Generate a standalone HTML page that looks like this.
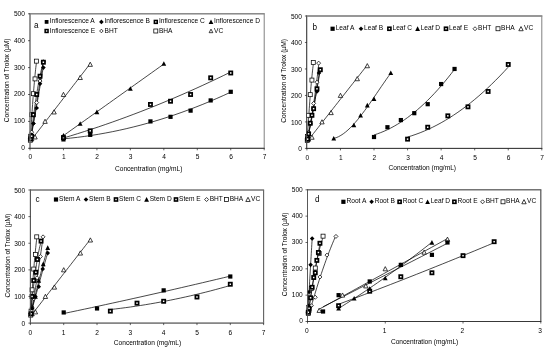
<!DOCTYPE html>
<html lang="en">
<head>
<meta charset="utf-8">
<title>Concentration of Trolox charts</title>
<style>
html,body{margin:0;padding:0;background:#fff;}
body{width:550px;height:352px;position:relative;overflow:hidden;font-family:'Liberation Sans', sans-serif;}
svg text{font-family:'Liberation Sans',sans-serif;fill:#000;}
.t{font-size:6.6px;}
.l{font-size:6.6px;}
.p{font-size:8.2px;}
</style>
</head>
<body>
<svg width="550" height="352" viewBox="0 0 550 352" style="position:absolute;left:0;top:0;transform:translateZ(0)">
<g id="panel-a">
<rect x="30.00" y="13.80" width="234.20" height="134.50" fill="#fff" stroke="#808080" stroke-width="1"/>
<path d="M63.46 138.82L70.43 138.14L77.40 137.34L84.37 136.44L91.34 135.42L98.31 134.30L105.28 133.06L112.25 131.72L119.22 130.27L126.19 128.71L133.16 127.03L140.13 125.25L147.10 123.36L154.07 121.36L161.04 119.26L168.01 117.04L174.98 114.71L181.95 112.27L188.92 109.73L195.89 107.07L202.86 104.30L209.83 101.43L216.80 98.45L223.77 95.35L230.74 92.15" fill="none" stroke="#000" stroke-width="0.72"/>
<path d="M30.67 139.52L31.20 136.58L31.73 133.62L32.26 130.66L32.79 127.69L33.32 124.71L33.85 121.72L34.38 118.73L34.91 115.73L35.44 112.72L35.97 109.71L36.50 106.68L37.03 103.65L37.56 100.62L38.09 97.57L38.62 94.52L39.14 91.46L39.67 88.39L40.20 85.32L40.73 82.23L41.26 79.15L41.79 76.05L42.32 72.94L42.85 69.83L43.38 66.71" fill="none" stroke="#000" stroke-width="0.72"/>
<path d="M63.46 138.00L70.43 135.90L77.40 133.74L84.37 131.53L91.34 129.26L98.31 126.94L105.28 124.56L112.25 122.12L119.22 119.62L126.19 117.07L133.16 114.46L140.13 111.80L147.10 109.08L154.07 106.30L161.04 103.46L168.01 100.57L174.98 97.62L181.95 94.62L188.92 91.56L195.89 88.44L202.86 85.26L209.83 82.03L216.80 78.74L223.77 75.40L230.74 71.99" fill="none" stroke="#000" stroke-width="0.72"/>
<path d="M63.46 135.63L67.64 132.65L71.82 129.66L76.00 126.68L80.19 123.70L84.37 120.72L88.55 117.74L92.73 114.75L96.91 111.77L101.10 108.79L105.28 105.81L109.46 102.83L113.64 99.84L117.82 96.86L122.01 93.88L126.19 90.90L130.37 87.91L134.55 84.93L138.74 81.95L142.92 78.97L147.10 75.99L151.28 73.00L155.46 70.02L159.65 67.04L163.83 64.06" fill="none" stroke="#000" stroke-width="0.72"/>
<path d="M30.67 140.77L31.20 135.97L31.73 131.31L32.26 126.77L32.79 122.37L33.32 118.11L33.85 113.98L34.38 109.98L34.91 106.12L35.44 102.39L35.97 98.79L36.50 95.33L37.03 92.00L37.56 88.81L38.09 85.75L38.62 82.82L39.14 80.03L39.67 77.37L40.20 74.85L40.73 72.46L41.26 70.20L41.79 68.08L42.32 66.09L42.85 64.23L43.38 62.51" fill="none" stroke="#000" stroke-width="0.72"/>
<path d="M30.67 138.89L31.20 135.68L31.73 132.48L32.26 129.27L32.79 126.06L33.32 122.84L33.85 119.63L34.38 116.41L34.91 113.19L35.44 109.97L35.97 106.74L36.50 103.51L37.03 100.28L37.56 97.05L38.09 93.81L38.62 90.58L39.14 87.34L39.67 84.09L40.20 80.85L40.73 77.60L41.26 74.35L41.79 71.10L42.32 67.84L42.85 64.59L43.38 61.33" fill="none" stroke="#000" stroke-width="0.72"/>
<path d="M30.33 140.00L30.59 135.66L30.84 131.41L31.09 127.26L31.34 123.21L31.59 119.26L31.84 115.41L32.09 111.65L32.34 108.00L32.59 104.45L32.84 100.99L33.09 97.64L33.35 94.38L33.60 91.22L33.85 88.17L34.10 85.21L34.35 82.35L34.60 79.59L34.85 76.93L35.10 74.37L35.35 71.90L35.60 69.54L35.85 67.28L36.11 65.11L36.36 63.05" fill="none" stroke="#000" stroke-width="0.72"/>
<path d="M31.67 139.47L34.11 136.31L36.55 133.15L38.99 129.99L41.43 126.83L43.87 123.67L46.31 120.51L48.75 117.35L51.19 114.19L53.63 111.02L56.07 107.86L58.51 104.70L60.95 101.54L63.39 98.38L65.83 95.22L68.27 92.06L70.71 88.90L73.15 85.74L75.59 82.58L78.02 79.42L80.46 76.26L82.90 73.10L85.34 69.94L87.78 66.78L90.22 63.62" fill="none" stroke="#000" stroke-width="0.72"/>
<path d="M30.67 136.89L32.67 138.89L30.67 140.89L28.67 138.89Z" fill="#fff" stroke="#000" stroke-width="0.75"/>
<path d="M31.67 130.16L33.67 132.16L31.67 134.16L29.67 132.16Z" fill="#fff" stroke="#000" stroke-width="0.75"/>
<path d="M33.35 121.55L35.35 123.55L33.35 125.55L31.35 123.55Z" fill="#fff" stroke="#000" stroke-width="0.75"/>
<path d="M36.69 100.57L38.69 102.57L36.69 104.57L34.69 102.57Z" fill="#fff" stroke="#000" stroke-width="0.75"/>
<path d="M40.04 79.05L42.04 81.05L40.04 83.05L38.04 81.05Z" fill="#fff" stroke="#000" stroke-width="0.75"/>
<path d="M43.38 59.68L45.38 61.68L43.38 63.68L41.38 61.68Z" fill="#fff" stroke="#000" stroke-width="0.75"/>
<rect x="28.33" y="138.23" width="4.00" height="4.00" fill="#fff" stroke="#000" stroke-width="0.75"/>
<rect x="28.67" y="134.20" width="4.00" height="4.00" fill="#fff" stroke="#000" stroke-width="0.75"/>
<rect x="29.67" y="112.68" width="4.00" height="4.00" fill="#fff" stroke="#000" stroke-width="0.75"/>
<rect x="31.35" y="91.69" width="4.00" height="4.00" fill="#fff" stroke="#000" stroke-width="0.75"/>
<rect x="33.02" y="76.90" width="4.00" height="4.00" fill="#fff" stroke="#000" stroke-width="0.75"/>
<rect x="34.36" y="59.14" width="4.00" height="4.00" fill="#fff" stroke="#000" stroke-width="0.75"/>
<path d="M31.67 136.69L33.87 140.87L29.47 140.87Z" fill="#fff" stroke="#000" stroke-width="0.75"/>
<path d="M35.02 134.80L37.22 138.98L32.82 138.98Z" fill="#fff" stroke="#000" stroke-width="0.75"/>
<path d="M45.06 119.20L47.26 123.38L42.86 123.38Z" fill="#fff" stroke="#000" stroke-width="0.75"/>
<path d="M54.09 109.79L56.29 113.97L51.89 113.97Z" fill="#fff" stroke="#000" stroke-width="0.75"/>
<path d="M63.46 92.30L65.66 96.48L61.26 96.48Z" fill="#fff" stroke="#000" stroke-width="0.75"/>
<path d="M80.19 75.35L82.39 79.53L77.99 79.53Z" fill="#fff" stroke="#000" stroke-width="0.75"/>
<path d="M90.22 62.17L92.42 66.35L88.02 66.35Z" fill="#fff" stroke="#000" stroke-width="0.75"/>
<rect x="61.36" y="137.32" width="4.20" height="4.20" fill="#000"/>
<rect x="88.12" y="132.75" width="4.20" height="4.20" fill="#000"/>
<rect x="148.35" y="119.30" width="4.20" height="4.20" fill="#000"/>
<rect x="168.42" y="114.73" width="4.20" height="4.20" fill="#000"/>
<rect x="188.49" y="108.54" width="4.20" height="4.20" fill="#000"/>
<rect x="208.57" y="98.32" width="4.20" height="4.20" fill="#000"/>
<rect x="228.64" y="89.71" width="4.20" height="4.20" fill="#000"/>
<path d="M30.67 136.59L32.97 138.89L30.67 141.19L28.37 138.89Z" fill="#000"/>
<path d="M31.67 132.55L33.97 134.85L31.67 137.15L29.37 134.85Z" fill="#000"/>
<path d="M33.35 121.25L35.65 123.55L33.35 125.85L31.05 123.55Z" fill="#000"/>
<path d="M36.69 105.65L38.99 107.95L36.69 110.25L34.39 107.95Z" fill="#000"/>
<path d="M40.04 81.44L42.34 83.74L40.04 86.04L37.74 83.74Z" fill="#000"/>
<path d="M43.38 65.30L45.68 67.60L43.38 69.90L41.08 67.60Z" fill="#000"/>
<rect x="61.86" y="135.94" width="3.20" height="3.20" fill="#fff" stroke="#000" stroke-width="1.70"/>
<rect x="88.62" y="129.22" width="3.20" height="3.20" fill="#fff" stroke="#000" stroke-width="1.70"/>
<rect x="148.85" y="102.85" width="3.20" height="3.20" fill="#fff" stroke="#000" stroke-width="1.70"/>
<rect x="168.92" y="99.63" width="3.20" height="3.20" fill="#fff" stroke="#000" stroke-width="1.70"/>
<rect x="188.99" y="92.90" width="3.20" height="3.20" fill="#fff" stroke="#000" stroke-width="1.70"/>
<rect x="209.07" y="76.22" width="3.20" height="3.20" fill="#fff" stroke="#000" stroke-width="1.70"/>
<rect x="229.14" y="71.38" width="3.20" height="3.20" fill="#fff" stroke="#000" stroke-width="1.70"/>
<path d="M63.46 132.99L65.86 137.55L61.06 137.55Z" fill="#000"/>
<path d="M80.19 121.15L82.59 125.71L77.79 125.71Z" fill="#000"/>
<path d="M96.91 109.59L99.31 114.15L94.51 114.15Z" fill="#000"/>
<path d="M130.37 86.18L132.77 90.74L127.97 90.74Z" fill="#000"/>
<path d="M163.83 61.17L166.23 65.73L161.43 65.73Z" fill="#000"/>
<rect x="29.07" y="137.29" width="3.20" height="3.20" fill="#fff" stroke="#000" stroke-width="1.70"/>
<rect x="30.07" y="134.60" width="3.20" height="3.20" fill="#fff" stroke="#000" stroke-width="1.70"/>
<rect x="31.75" y="113.08" width="3.20" height="3.20" fill="#fff" stroke="#000" stroke-width="1.70"/>
<rect x="35.09" y="92.90" width="3.20" height="3.20" fill="#fff" stroke="#000" stroke-width="1.70"/>
<rect x="38.44" y="74.61" width="3.20" height="3.20" fill="#fff" stroke="#000" stroke-width="1.70"/>
<rect x="41.78" y="60.62" width="3.20" height="3.20" fill="#fff" stroke="#000" stroke-width="1.70"/>
<line x1="30.00" y1="13.30" x2="30.00" y2="148.80" stroke="#7a7a7a" stroke-width="1.2"/>
<line x1="29.50" y1="13.80" x2="264.70" y2="13.80" stroke="#808080" stroke-width="1.0"/>
<line x1="29.50" y1="148.30" x2="264.70" y2="148.30" stroke="#2a2a2a" stroke-width="0.85"/>
<line x1="28.00" y1="148.30" x2="30.00" y2="148.30" stroke="#222" stroke-width="0.7"/>
<text x="24.90" y="150.20" text-anchor="end" class="t">0</text>
<line x1="28.00" y1="121.40" x2="30.00" y2="121.40" stroke="#222" stroke-width="0.7"/>
<text x="24.90" y="123.30" text-anchor="end" class="t">100</text>
<line x1="28.00" y1="94.50" x2="30.00" y2="94.50" stroke="#222" stroke-width="0.7"/>
<text x="24.90" y="96.40" text-anchor="end" class="t">200</text>
<line x1="28.00" y1="67.60" x2="30.00" y2="67.60" stroke="#222" stroke-width="0.7"/>
<text x="24.90" y="69.50" text-anchor="end" class="t">300</text>
<line x1="28.00" y1="40.70" x2="30.00" y2="40.70" stroke="#222" stroke-width="0.7"/>
<text x="24.90" y="42.60" text-anchor="end" class="t">400</text>
<line x1="28.00" y1="13.80" x2="30.00" y2="13.80" stroke="#222" stroke-width="0.7"/>
<text x="24.90" y="15.70" text-anchor="end" class="t">500</text>
<line x1="30.00" y1="148.30" x2="30.00" y2="150.30" stroke="#222" stroke-width="0.7"/>
<text x="30.30" y="159.20" text-anchor="middle" class="t">0</text>
<line x1="63.46" y1="148.30" x2="63.46" y2="150.30" stroke="#222" stroke-width="0.7"/>
<text x="63.76" y="159.20" text-anchor="middle" class="t">1</text>
<line x1="96.91" y1="148.30" x2="96.91" y2="150.30" stroke="#222" stroke-width="0.7"/>
<text x="97.21" y="159.20" text-anchor="middle" class="t">2</text>
<line x1="130.37" y1="148.30" x2="130.37" y2="150.30" stroke="#222" stroke-width="0.7"/>
<text x="130.67" y="159.20" text-anchor="middle" class="t">3</text>
<line x1="163.83" y1="148.30" x2="163.83" y2="150.30" stroke="#222" stroke-width="0.7"/>
<text x="164.13" y="159.20" text-anchor="middle" class="t">4</text>
<line x1="197.29" y1="148.30" x2="197.29" y2="150.30" stroke="#222" stroke-width="0.7"/>
<text x="197.59" y="159.20" text-anchor="middle" class="t">5</text>
<line x1="230.74" y1="148.30" x2="230.74" y2="150.30" stroke="#222" stroke-width="0.7"/>
<text x="231.04" y="159.20" text-anchor="middle" class="t">6</text>
<line x1="264.20" y1="148.30" x2="264.20" y2="150.30" stroke="#222" stroke-width="0.7"/>
<text x="264.50" y="159.20" text-anchor="middle" class="t">7</text>
<text x="148.70" y="170.80" text-anchor="middle" class="t">Concentration (mg/mL)</text>
<text transform="translate(9.40 80.45) rotate(-90)" text-anchor="middle" class="t">Concentration of Trolox (µM)</text>
</g>
<g id="panel-b">
<rect x="306.90" y="16.00" width="234.90" height="132.40" fill="#fff" stroke="#808080" stroke-width="1"/>
<path d="M374.01 134.95L377.37 133.85L380.73 132.60L384.08 131.22L387.44 129.69L390.79 128.03L394.15 126.21L397.50 124.26L400.86 122.17L404.22 119.93L407.57 117.55L410.93 115.03L414.28 112.36L417.64 109.56L420.99 106.61L424.35 103.52L427.71 100.28L431.06 96.91L434.42 93.39L437.77 89.73L441.13 85.93L444.48 81.98L447.84 77.89L451.20 73.67L454.55 69.29" fill="none" stroke="#000" stroke-width="0.72"/>
<path d="M307.57 138.39L308.05 136.37L308.52 134.29L309.00 132.16L309.47 129.98L309.95 127.74L310.42 125.45L310.90 123.10L311.37 120.70L311.85 118.24L312.33 115.73L312.80 113.17L313.28 110.55L313.75 107.88L314.23 105.15L314.70 102.37L315.18 99.53L315.65 96.64L316.13 93.69L316.60 90.69L317.08 87.64L317.55 84.53L318.03 81.37L318.51 78.15L318.98 74.88" fill="none" stroke="#000" stroke-width="0.72"/>
<path d="M407.57 137.02L411.77 135.74L415.96 134.31L420.16 132.74L424.35 131.03L428.54 129.18L432.74 127.18L436.93 125.05L441.13 122.77L445.32 120.35L449.52 117.79L453.71 115.09L457.91 112.25L462.10 109.26L466.30 106.13L470.49 102.87L474.69 99.46L478.88 95.90L483.07 92.21L487.27 88.38L491.46 84.40L495.66 80.28L499.85 76.02L504.05 71.62L508.24 67.08" fill="none" stroke="#000" stroke-width="0.72"/>
<path d="M333.75 138.45L336.12 137.73L338.50 136.70L340.88 135.39L343.25 133.82L345.63 132.00L348.01 129.96L350.38 127.69L352.76 125.24L355.14 122.60L357.52 119.80L359.89 116.86L362.27 113.78L364.65 110.60L367.02 107.32L369.40 103.97L371.78 100.55L374.15 97.10L376.53 93.61L378.91 90.12L381.28 86.64L383.66 83.18L386.04 79.76L388.42 76.40L390.79 73.12" fill="none" stroke="#000" stroke-width="0.72"/>
<path d="M307.57 138.59L308.10 135.89L308.63 133.18L309.17 130.46L309.70 127.72L310.23 124.96L310.76 122.19L311.29 119.41L311.82 116.62L312.35 113.81L312.88 110.98L313.42 108.14L313.95 105.29L314.48 102.42L315.01 99.54L315.54 96.65L316.07 93.74L316.60 90.82L317.13 87.88L317.67 84.93L318.20 81.96L318.73 78.99L319.26 75.99L319.79 72.99L320.32 69.96" fill="none" stroke="#000" stroke-width="0.72"/>
<path d="M307.57 137.97L308.03 135.89L308.49 133.73L308.96 131.49L309.42 129.17L309.88 126.76L310.34 124.26L310.80 121.68L311.26 119.02L311.72 116.28L312.19 113.45L312.65 110.53L313.11 107.53L313.57 104.45L314.03 101.29L314.49 98.04L314.95 94.71L315.42 91.29L315.88 87.79L316.34 84.21L316.80 80.54L317.26 76.79L317.72 72.95L318.18 69.03L318.64 65.03" fill="none" stroke="#000" stroke-width="0.72"/>
<path d="M307.24 140.23L307.49 135.95L307.74 131.77L307.99 127.69L308.24 123.70L308.49 119.81L308.75 116.02L309.00 112.33L309.25 108.73L309.50 105.23L309.75 101.83L310.00 98.53L310.26 95.32L310.51 92.22L310.76 89.21L311.01 86.29L311.26 83.48L311.51 80.76L311.77 78.14L312.02 75.62L312.27 73.20L312.52 70.87L312.77 68.64L313.02 66.51L313.28 64.48" fill="none" stroke="#000" stroke-width="0.72"/>
<path d="M308.58 139.71L311.02 136.59L313.47 133.48L315.92 130.37L318.37 127.26L320.81 124.15L323.26 121.04L325.71 117.93L328.15 114.82L330.60 111.71L333.05 108.60L335.49 105.48L337.94 102.37L340.39 99.26L342.83 96.15L345.28 93.04L347.73 89.93L350.17 86.82L352.62 83.71L355.07 80.60L357.52 77.49L359.96 74.37L362.41 71.26L364.86 68.15L367.30 65.04" fill="none" stroke="#000" stroke-width="0.72"/>
<path d="M307.57 137.13L309.57 139.13L307.57 141.13L305.57 139.13Z" fill="#fff" stroke="#000" stroke-width="0.75"/>
<path d="M308.58 130.51L310.58 132.51L308.58 134.51L306.58 132.51Z" fill="#fff" stroke="#000" stroke-width="0.75"/>
<path d="M310.26 122.04L312.26 124.04L310.26 126.04L308.26 124.04Z" fill="#fff" stroke="#000" stroke-width="0.75"/>
<path d="M313.61 101.38L315.61 103.38L313.61 105.38L311.61 103.38Z" fill="#fff" stroke="#000" stroke-width="0.75"/>
<path d="M316.97 80.20L318.97 82.20L316.97 84.20L314.97 82.20Z" fill="#fff" stroke="#000" stroke-width="0.75"/>
<path d="M318.64 61.13L320.64 63.13L318.64 65.13L316.64 63.13Z" fill="#fff" stroke="#000" stroke-width="0.75"/>
<rect x="305.24" y="138.46" width="4.00" height="4.00" fill="#fff" stroke="#000" stroke-width="0.75"/>
<rect x="305.57" y="134.48" width="4.00" height="4.00" fill="#fff" stroke="#000" stroke-width="0.75"/>
<rect x="306.58" y="113.30" width="4.00" height="4.00" fill="#fff" stroke="#000" stroke-width="0.75"/>
<rect x="308.26" y="92.65" width="4.00" height="4.00" fill="#fff" stroke="#000" stroke-width="0.75"/>
<rect x="309.93" y="78.08" width="4.00" height="4.00" fill="#fff" stroke="#000" stroke-width="0.75"/>
<rect x="311.28" y="60.60" width="4.00" height="4.00" fill="#fff" stroke="#000" stroke-width="0.75"/>
<path d="M308.58 136.93L310.78 141.11L306.38 141.11Z" fill="#fff" stroke="#000" stroke-width="0.75"/>
<path d="M311.93 135.08L314.13 139.26L309.73 139.26Z" fill="#fff" stroke="#000" stroke-width="0.75"/>
<path d="M322.00 119.72L324.20 123.90L319.80 123.90Z" fill="#fff" stroke="#000" stroke-width="0.75"/>
<path d="M331.06 110.45L333.26 114.63L328.86 114.63Z" fill="#fff" stroke="#000" stroke-width="0.75"/>
<path d="M340.46 93.24L342.66 97.42L338.26 97.42Z" fill="#fff" stroke="#000" stroke-width="0.75"/>
<path d="M357.24 76.56L359.44 80.74L355.04 80.74Z" fill="#fff" stroke="#000" stroke-width="0.75"/>
<path d="M367.30 63.58L369.50 67.76L365.10 67.76Z" fill="#fff" stroke="#000" stroke-width="0.75"/>
<rect x="371.91" y="134.91" width="4.20" height="4.20" fill="#000"/>
<rect x="385.34" y="125.12" width="4.20" height="4.20" fill="#000"/>
<rect x="398.76" y="117.97" width="4.20" height="4.20" fill="#000"/>
<rect x="412.18" y="111.08" width="4.20" height="4.20" fill="#000"/>
<rect x="425.61" y="102.08" width="4.20" height="4.20" fill="#000"/>
<rect x="439.03" y="81.95" width="4.20" height="4.20" fill="#000"/>
<rect x="452.45" y="66.86" width="4.20" height="4.20" fill="#000"/>
<path d="M307.57 136.83L309.87 139.13L307.57 141.43L305.27 139.13Z" fill="#000"/>
<path d="M308.58 132.86L310.88 135.16L308.58 137.46L306.28 135.16Z" fill="#000"/>
<path d="M310.26 120.94L312.56 123.24L310.26 125.54L307.96 123.24Z" fill="#000"/>
<path d="M313.61 106.38L315.91 108.68L313.61 110.98L311.31 108.68Z" fill="#000"/>
<path d="M316.97 89.17L319.27 91.47L316.97 93.77L314.67 91.47Z" fill="#000"/>
<path d="M318.98 70.63L321.28 72.93L318.98 75.23L316.68 72.93Z" fill="#000"/>
<rect x="405.97" y="137.53" width="3.20" height="3.20" fill="#fff" stroke="#000" stroke-width="1.70"/>
<rect x="426.11" y="125.62" width="3.20" height="3.20" fill="#fff" stroke="#000" stroke-width="1.70"/>
<rect x="446.24" y="114.23" width="3.20" height="3.20" fill="#fff" stroke="#000" stroke-width="1.70"/>
<rect x="466.37" y="105.23" width="3.20" height="3.20" fill="#fff" stroke="#000" stroke-width="1.70"/>
<rect x="486.51" y="89.87" width="3.20" height="3.20" fill="#fff" stroke="#000" stroke-width="1.70"/>
<rect x="506.64" y="62.86" width="3.20" height="3.20" fill="#fff" stroke="#000" stroke-width="1.70"/>
<path d="M333.75 135.94L336.15 140.50L331.35 140.50Z" fill="#000"/>
<path d="M353.88 122.70L356.28 127.26L351.48 127.26Z" fill="#000"/>
<path d="M360.59 112.90L362.99 117.46L358.19 117.46Z" fill="#000"/>
<path d="M367.30 102.84L369.70 107.40L364.90 107.40Z" fill="#000"/>
<path d="M374.01 96.48L376.41 101.04L371.61 101.04Z" fill="#000"/>
<path d="M390.79 70.53L393.19 75.09L388.39 75.09Z" fill="#000"/>
<rect x="305.97" y="137.53" width="3.20" height="3.20" fill="#fff" stroke="#000" stroke-width="1.70"/>
<rect x="306.98" y="132.24" width="3.20" height="3.20" fill="#fff" stroke="#000" stroke-width="1.70"/>
<rect x="308.66" y="121.64" width="3.20" height="3.20" fill="#fff" stroke="#000" stroke-width="1.70"/>
<rect x="310.33" y="113.70" width="3.20" height="3.20" fill="#fff" stroke="#000" stroke-width="1.70"/>
<rect x="312.01" y="107.08" width="3.20" height="3.20" fill="#fff" stroke="#000" stroke-width="1.70"/>
<rect x="315.37" y="87.22" width="3.20" height="3.20" fill="#fff" stroke="#000" stroke-width="1.70"/>
<rect x="318.72" y="68.15" width="3.20" height="3.20" fill="#fff" stroke="#000" stroke-width="1.70"/>
<line x1="306.50" y1="15.50" x2="306.50" y2="148.90" stroke="#4a4a4a" stroke-width="0.9"/>
<line x1="306.40" y1="16.00" x2="542.30" y2="16.00" stroke="#8a8a8a" stroke-width="1.4"/>
<line x1="306.40" y1="148.40" x2="542.30" y2="148.40" stroke="#2a2a2a" stroke-width="0.85"/>
<line x1="304.90" y1="148.40" x2="306.90" y2="148.40" stroke="#222" stroke-width="0.7"/>
<text x="301.90" y="151.20" text-anchor="end" class="t">0</text>
<line x1="304.90" y1="121.92" x2="306.90" y2="121.92" stroke="#222" stroke-width="0.7"/>
<text x="301.90" y="124.72" text-anchor="end" class="t">100</text>
<line x1="304.90" y1="95.44" x2="306.90" y2="95.44" stroke="#222" stroke-width="0.7"/>
<text x="301.90" y="98.24" text-anchor="end" class="t">200</text>
<line x1="304.90" y1="68.96" x2="306.90" y2="68.96" stroke="#222" stroke-width="0.7"/>
<text x="301.90" y="71.76" text-anchor="end" class="t">300</text>
<line x1="304.90" y1="42.48" x2="306.90" y2="42.48" stroke="#222" stroke-width="0.7"/>
<text x="301.90" y="45.28" text-anchor="end" class="t">400</text>
<line x1="304.90" y1="16.00" x2="306.90" y2="16.00" stroke="#222" stroke-width="0.7"/>
<text x="301.90" y="18.80" text-anchor="end" class="t">500</text>
<line x1="306.90" y1="148.40" x2="306.90" y2="150.40" stroke="#222" stroke-width="0.7"/>
<text x="307.30" y="160.30" text-anchor="middle" class="t">0</text>
<line x1="340.46" y1="148.40" x2="340.46" y2="150.40" stroke="#222" stroke-width="0.7"/>
<text x="340.86" y="160.30" text-anchor="middle" class="t">1</text>
<line x1="374.01" y1="148.40" x2="374.01" y2="150.40" stroke="#222" stroke-width="0.7"/>
<text x="374.41" y="160.30" text-anchor="middle" class="t">2</text>
<line x1="407.57" y1="148.40" x2="407.57" y2="150.40" stroke="#222" stroke-width="0.7"/>
<text x="407.97" y="160.30" text-anchor="middle" class="t">3</text>
<line x1="441.13" y1="148.40" x2="441.13" y2="150.40" stroke="#222" stroke-width="0.7"/>
<text x="441.53" y="160.30" text-anchor="middle" class="t">4</text>
<line x1="474.69" y1="148.40" x2="474.69" y2="150.40" stroke="#222" stroke-width="0.7"/>
<text x="475.09" y="160.30" text-anchor="middle" class="t">5</text>
<line x1="508.24" y1="148.40" x2="508.24" y2="150.40" stroke="#222" stroke-width="0.7"/>
<text x="508.64" y="160.30" text-anchor="middle" class="t">6</text>
<line x1="541.80" y1="148.40" x2="541.80" y2="150.40" stroke="#222" stroke-width="0.7"/>
<text x="542.20" y="160.30" text-anchor="middle" class="t">7</text>
<text x="422.30" y="170.10" text-anchor="middle" class="t">Concentration (mg/mL)</text>
<text transform="translate(286.30 81.00) rotate(-90)" text-anchor="middle" class="t">Concentration of Trolox (µM)</text>
</g>
<g id="panel-c">
<rect x="30.40" y="190.00" width="233.20" height="133.10" fill="#fff" stroke="#808080" stroke-width="1"/>
<path d="M63.71 313.52L70.65 312.07L77.60 310.60L84.54 309.13L91.48 307.65L98.42 306.15L105.36 304.65L112.30 303.14L119.24 301.62L126.18 300.10L133.12 298.56L140.06 297.02L147.00 295.46L153.94 293.90L160.88 292.33L167.82 290.75L174.76 289.16L181.70 287.56L188.64 285.95L195.58 284.33L202.52 282.71L209.46 281.07L216.40 279.43L223.35 277.78L230.29 276.11" fill="none" stroke="#000" stroke-width="0.72"/>
<path d="M31.07 313.09L31.76 310.50L32.45 307.91L33.15 305.33L33.84 302.76L34.54 300.19L35.23 297.63L35.92 295.08L36.62 292.54L37.31 290.00L38.01 287.47L38.70 284.94L39.39 282.43L40.09 279.92L40.78 277.41L41.48 274.92L42.17 272.43L42.87 269.94L43.56 267.47L44.25 265.00L44.95 262.53L45.64 260.08L46.34 257.63L47.03 255.19L47.72 252.75" fill="none" stroke="#000" stroke-width="0.72"/>
<path d="M110.35 309.53L115.35 308.95L120.35 308.33L125.35 307.68L130.34 307.00L135.34 306.27L140.34 305.51L145.33 304.71L150.33 303.87L155.33 303.00L160.33 302.09L165.32 301.14L170.32 300.16L175.32 299.14L180.31 298.08L185.31 296.99L190.31 295.86L195.31 294.69L200.30 293.48L205.30 292.24L210.30 290.96L215.29 289.64L220.29 288.29L225.29 286.90L230.29 285.47" fill="none" stroke="#000" stroke-width="0.72"/>
<path d="M31.07 313.01L31.76 310.04L32.45 307.09L33.15 304.16L33.84 301.25L34.54 298.36L35.23 295.50L35.92 292.65L36.62 289.83L37.31 287.03L38.01 284.25L38.70 281.50L39.39 278.76L40.09 276.05L40.78 273.36L41.48 270.69L42.17 268.04L42.87 265.42L43.56 262.82L44.25 260.23L44.95 257.68L45.64 255.14L46.34 252.62L47.03 250.13L47.72 247.65" fill="none" stroke="#000" stroke-width="0.72"/>
<path d="M31.07 309.82L31.48 305.60L31.90 301.50L32.32 297.52L32.73 293.66L33.15 289.92L33.56 286.30L33.98 282.80L34.40 279.43L34.81 276.18L35.23 273.05L35.65 270.04L36.06 267.15L36.48 264.39L36.90 261.74L37.31 259.22L37.73 256.82L38.15 254.54L38.56 252.38L38.98 250.35L39.39 248.43L39.81 246.64L40.23 244.97L40.64 243.42L41.06 241.99" fill="none" stroke="#000" stroke-width="0.72"/>
<path d="M31.07 313.28L31.57 310.58L32.07 307.83L32.57 305.05L33.07 302.22L33.56 299.35L34.06 296.44L34.56 293.49L35.06 290.50L35.56 287.47L36.06 284.40L36.56 281.28L37.06 278.13L37.56 274.93L38.06 271.70L38.56 268.42L39.06 265.10L39.56 261.74L40.06 258.34L40.56 254.90L41.06 251.42L41.56 247.90L42.06 244.34L42.56 240.73L43.06 237.09" fill="none" stroke="#000" stroke-width="0.72"/>
<path d="M30.73 314.89L30.98 310.59L31.23 306.38L31.48 302.28L31.73 298.27L31.98 294.36L32.23 290.55L32.48 286.84L32.73 283.22L32.98 279.70L33.23 276.29L33.48 272.97L33.73 269.74L33.98 266.62L34.23 263.59L34.48 260.67L34.73 257.84L34.98 255.10L35.23 252.47L35.48 249.94L35.73 247.50L35.98 245.16L36.23 242.92L36.48 240.78L36.73 238.73" fill="none" stroke="#000" stroke-width="0.72"/>
<path d="M32.07 314.36L34.49 311.23L36.92 308.11L39.35 304.98L41.78 301.85L44.21 298.72L46.64 295.60L49.07 292.47L51.50 289.34L53.93 286.21L56.36 283.09L58.79 279.96L61.22 276.83L63.64 273.70L66.07 270.58L68.50 267.45L70.93 264.32L73.36 261.19L75.79 258.07L78.22 254.94L80.65 251.81L83.08 248.68L85.51 245.56L87.94 242.43L90.37 239.30" fill="none" stroke="#000" stroke-width="0.72"/>
<path d="M31.07 311.78L33.07 313.78L31.07 315.78L29.07 313.78Z" fill="#fff" stroke="#000" stroke-width="0.75"/>
<path d="M32.07 305.13L34.07 307.13L32.07 309.13L30.07 307.13Z" fill="#fff" stroke="#000" stroke-width="0.75"/>
<path d="M33.73 296.61L35.73 298.61L33.73 300.61L31.73 298.61Z" fill="#fff" stroke="#000" stroke-width="0.75"/>
<path d="M37.06 275.85L39.06 277.85L37.06 279.85L35.06 277.85Z" fill="#fff" stroke="#000" stroke-width="0.75"/>
<path d="M40.39 254.55L42.39 256.55L40.39 258.55L38.39 256.55Z" fill="#fff" stroke="#000" stroke-width="0.75"/>
<path d="M43.06 234.85L45.06 236.85L43.06 238.85L41.06 236.85Z" fill="#fff" stroke="#000" stroke-width="0.75"/>
<rect x="28.73" y="313.11" width="4.00" height="4.00" fill="#fff" stroke="#000" stroke-width="0.75"/>
<rect x="29.07" y="309.12" width="4.00" height="4.00" fill="#fff" stroke="#000" stroke-width="0.75"/>
<rect x="30.07" y="287.83" width="4.00" height="4.00" fill="#fff" stroke="#000" stroke-width="0.75"/>
<rect x="31.73" y="267.06" width="4.00" height="4.00" fill="#fff" stroke="#000" stroke-width="0.75"/>
<rect x="33.40" y="252.42" width="4.00" height="4.00" fill="#fff" stroke="#000" stroke-width="0.75"/>
<rect x="34.73" y="234.85" width="4.00" height="4.00" fill="#fff" stroke="#000" stroke-width="0.75"/>
<path d="M32.07 311.58L34.27 315.76L29.87 315.76Z" fill="#fff" stroke="#000" stroke-width="0.75"/>
<path d="M35.40 309.72L37.60 313.90L33.20 313.90Z" fill="#fff" stroke="#000" stroke-width="0.75"/>
<path d="M45.39 294.28L47.59 298.46L43.19 298.46Z" fill="#fff" stroke="#000" stroke-width="0.75"/>
<path d="M54.39 284.96L56.59 289.14L52.19 289.14Z" fill="#fff" stroke="#000" stroke-width="0.75"/>
<path d="M63.71 267.66L65.91 271.84L61.51 271.84Z" fill="#fff" stroke="#000" stroke-width="0.75"/>
<path d="M80.37 250.89L82.57 255.07L78.17 255.07Z" fill="#fff" stroke="#000" stroke-width="0.75"/>
<path d="M90.37 237.85L92.57 242.03L88.17 242.03Z" fill="#fff" stroke="#000" stroke-width="0.75"/>
<rect x="61.61" y="310.35" width="4.20" height="4.20" fill="#000"/>
<rect x="94.93" y="306.36" width="4.20" height="4.20" fill="#000"/>
<rect x="161.56" y="288.26" width="4.20" height="4.20" fill="#000"/>
<rect x="228.19" y="274.41" width="4.20" height="4.20" fill="#000"/>
<path d="M31.07 311.48L33.37 313.78L31.07 316.08L28.77 313.78Z" fill="#000"/>
<path d="M32.07 306.16L34.37 308.46L32.07 310.76L29.77 308.46Z" fill="#000"/>
<path d="M35.40 294.18L37.70 296.48L35.40 298.78L33.10 296.48Z" fill="#000"/>
<path d="M38.73 284.33L41.03 286.63L38.73 288.93L36.43 286.63Z" fill="#000"/>
<path d="M42.73 266.76L45.03 269.06L42.73 271.36L40.43 269.06Z" fill="#000"/>
<path d="M47.72 250.79L50.02 253.09L47.72 255.39L45.42 253.09Z" fill="#000"/>
<rect x="108.75" y="309.52" width="3.20" height="3.20" fill="#fff" stroke="#000" stroke-width="1.70"/>
<rect x="135.41" y="301.53" width="3.20" height="3.20" fill="#fff" stroke="#000" stroke-width="1.70"/>
<rect x="162.06" y="299.67" width="3.20" height="3.20" fill="#fff" stroke="#000" stroke-width="1.70"/>
<rect x="195.37" y="295.41" width="3.20" height="3.20" fill="#fff" stroke="#000" stroke-width="1.70"/>
<rect x="228.69" y="282.63" width="3.20" height="3.20" fill="#fff" stroke="#000" stroke-width="1.70"/>
<path d="M31.07 311.38L33.47 315.94L28.67 315.94Z" fill="#000"/>
<path d="M32.07 304.73L34.47 309.29L29.67 309.29Z" fill="#000"/>
<path d="M35.40 294.08L37.80 298.64L33.00 298.64Z" fill="#000"/>
<path d="M38.73 278.11L41.13 282.67L36.33 282.67Z" fill="#000"/>
<path d="M43.23 261.60L45.63 266.16L40.83 266.16Z" fill="#000"/>
<path d="M47.72 245.37L50.12 249.93L45.32 249.93Z" fill="#000"/>
<rect x="29.47" y="312.18" width="3.20" height="3.20" fill="#fff" stroke="#000" stroke-width="1.70"/>
<rect x="30.47" y="294.88" width="3.20" height="3.20" fill="#fff" stroke="#000" stroke-width="1.70"/>
<rect x="32.13" y="278.91" width="3.20" height="3.20" fill="#fff" stroke="#000" stroke-width="1.70"/>
<rect x="34.30" y="270.66" width="3.20" height="3.20" fill="#fff" stroke="#000" stroke-width="1.70"/>
<rect x="35.80" y="257.88" width="3.20" height="3.20" fill="#fff" stroke="#000" stroke-width="1.70"/>
<rect x="39.46" y="239.51" width="3.20" height="3.20" fill="#fff" stroke="#000" stroke-width="1.70"/>
<line x1="30.40" y1="189.50" x2="30.40" y2="323.60" stroke="#4a4a4a" stroke-width="0.9"/>
<line x1="263.60" y1="190.00" x2="263.60" y2="323.10" stroke="#606060" stroke-width="0.9"/>
<line x1="29.90" y1="190.00" x2="264.10" y2="190.00" stroke="#707070" stroke-width="1.0"/>
<line x1="29.90" y1="323.10" x2="264.10" y2="323.10" stroke="#777" stroke-width="1.3"/>
<line x1="28.40" y1="323.10" x2="30.40" y2="323.10" stroke="#222" stroke-width="0.7"/>
<text x="25.20" y="325.70" text-anchor="end" class="t">0</text>
<line x1="28.40" y1="296.48" x2="30.40" y2="296.48" stroke="#222" stroke-width="0.7"/>
<text x="25.20" y="299.08" text-anchor="end" class="t">100</text>
<line x1="28.40" y1="269.86" x2="30.40" y2="269.86" stroke="#222" stroke-width="0.7"/>
<text x="25.20" y="272.46" text-anchor="end" class="t">200</text>
<line x1="28.40" y1="243.24" x2="30.40" y2="243.24" stroke="#222" stroke-width="0.7"/>
<text x="25.20" y="245.84" text-anchor="end" class="t">300</text>
<line x1="28.40" y1="216.62" x2="30.40" y2="216.62" stroke="#222" stroke-width="0.7"/>
<text x="25.20" y="219.22" text-anchor="end" class="t">400</text>
<line x1="28.40" y1="190.00" x2="30.40" y2="190.00" stroke="#222" stroke-width="0.7"/>
<text x="25.20" y="192.60" text-anchor="end" class="t">500</text>
<line x1="30.40" y1="323.10" x2="30.40" y2="325.10" stroke="#222" stroke-width="0.7"/>
<text x="30.40" y="334.80" text-anchor="middle" class="t">0</text>
<line x1="63.71" y1="323.10" x2="63.71" y2="325.10" stroke="#222" stroke-width="0.7"/>
<text x="63.71" y="334.80" text-anchor="middle" class="t">1</text>
<line x1="97.03" y1="323.10" x2="97.03" y2="325.10" stroke="#222" stroke-width="0.7"/>
<text x="97.03" y="334.80" text-anchor="middle" class="t">2</text>
<line x1="130.34" y1="323.10" x2="130.34" y2="325.10" stroke="#222" stroke-width="0.7"/>
<text x="130.34" y="334.80" text-anchor="middle" class="t">3</text>
<line x1="163.66" y1="323.10" x2="163.66" y2="325.10" stroke="#222" stroke-width="0.7"/>
<text x="163.66" y="334.80" text-anchor="middle" class="t">4</text>
<line x1="196.97" y1="323.10" x2="196.97" y2="325.10" stroke="#222" stroke-width="0.7"/>
<text x="196.97" y="334.80" text-anchor="middle" class="t">5</text>
<line x1="230.29" y1="323.10" x2="230.29" y2="325.10" stroke="#222" stroke-width="0.7"/>
<text x="230.29" y="334.80" text-anchor="middle" class="t">6</text>
<line x1="263.60" y1="323.10" x2="263.60" y2="325.10" stroke="#222" stroke-width="0.7"/>
<text x="263.60" y="334.80" text-anchor="middle" class="t">7</text>
<text x="147.50" y="345.00" text-anchor="middle" class="t">Concentration (mg/mL)</text>
<text transform="translate(10.30 255.55) rotate(-90)" text-anchor="middle" class="t">Concentration of Trolox (µM)</text>
</g>
<g id="panel-d">
<rect x="307.50" y="189.80" width="233.30" height="131.70" fill="#fff" stroke="#808080" stroke-width="1"/>
<path d="M323.05 306.86L328.24 304.21L333.42 301.56L338.61 298.91L343.79 296.26L348.98 293.61L354.16 290.96L359.34 288.31L364.53 285.66L369.71 283.01L374.90 280.36L380.08 277.70L385.27 275.05L390.45 272.40L395.64 269.75L400.82 267.10L406.00 264.45L411.19 261.80L416.37 259.15L421.56 256.50L426.74 253.85L431.93 251.20L437.11 248.54L442.30 245.89L447.48 243.24" fill="none" stroke="#000" stroke-width="0.72"/>
<path d="M307.89 312.42L308.07 309.27L308.25 306.13L308.42 302.99L308.60 299.86L308.78 296.74L308.96 293.62L309.14 290.51L309.31 287.40L309.49 284.30L309.67 281.21L309.85 278.12L310.03 275.03L310.21 271.96L310.38 268.88L310.56 265.82L310.74 262.76L310.92 259.70L311.10 256.66L311.27 253.61L311.45 250.58L311.63 247.55L311.81 244.52L311.99 241.50L312.17 238.49" fill="none" stroke="#000" stroke-width="0.72"/>
<path d="M338.61 304.25L345.09 301.82L351.57 299.39L358.05 296.94L364.53 294.48L371.01 292.01L377.49 289.53L383.97 287.03L390.45 284.52L396.93 282.00L403.41 279.47L409.89 276.93L416.37 274.37L422.85 271.80L429.33 269.22L435.81 266.62L442.30 264.02L448.78 261.40L455.26 258.77L461.74 256.12L468.22 253.47L474.70 250.80L481.18 248.12L487.66 245.43L494.14 242.72" fill="none" stroke="#000" stroke-width="0.72"/>
<path d="M338.61 308.46L342.50 306.01L346.38 303.54L350.27 301.04L354.16 298.51L358.05 295.95L361.94 293.37L365.82 290.76L369.71 288.12L373.60 285.46L377.49 282.77L381.38 280.05L385.27 277.30L389.15 274.52L393.04 271.72L396.93 268.89L400.82 266.04L404.71 263.15L408.60 260.24L412.49 257.30L416.37 254.33L420.26 251.34L424.15 248.32L428.04 245.27L431.93 242.19" fill="none" stroke="#000" stroke-width="0.72"/>
<path d="M308.28 312.43L308.76 309.36L309.25 306.31L309.74 303.27L310.22 300.25L310.71 297.25L311.19 294.27L311.68 291.31L312.17 288.36L312.65 285.43L313.14 282.52L313.62 279.63L314.11 276.76L314.60 273.90L315.08 271.07L315.57 268.25L316.05 265.45L316.54 262.66L317.03 259.90L317.51 257.15L318.00 254.42L318.48 251.71L318.97 249.02L319.46 246.34L319.94 243.68" fill="none" stroke="#000" stroke-width="0.72"/>
<path d="M309.06 314.19L310.18 310.17L311.30 306.22L312.42 302.33L313.54 298.51L314.66 294.75L315.78 291.05L316.90 287.42L318.02 283.85L319.15 280.34L320.27 276.90L321.39 273.52L322.51 270.20L323.63 266.95L324.75 263.76L325.87 260.63L326.99 257.57L328.11 254.57L329.24 251.64L330.36 248.77L331.48 245.96L332.60 243.22L333.72 240.54L334.84 237.92L335.96 235.37" fill="none" stroke="#000" stroke-width="0.72"/>
<path d="M308.28 313.47L308.89 308.90L309.51 304.44L310.12 300.11L310.74 295.90L311.36 291.81L311.97 287.85L312.59 284.01L313.20 280.29L313.82 276.70L314.43 273.22L315.05 269.87L315.67 266.64L316.28 263.54L316.90 260.56L317.51 257.70L318.13 254.96L318.74 252.34L319.36 249.85L319.98 247.48L320.59 245.23L321.21 243.11L321.82 241.11L322.44 239.23L323.05 237.47" fill="none" stroke="#000" stroke-width="0.72"/>
<path d="M319.17 309.20L324.51 306.26L329.86 303.32L335.20 300.37L340.55 297.43L345.90 294.49L351.24 291.55L356.59 288.60L361.94 285.66L367.28 282.72L372.63 279.78L377.98 276.83L383.32 273.89L388.67 270.95L394.02 268.01L399.36 265.06L404.71 262.12L410.05 259.18L415.40 256.23L420.75 253.29L426.09 250.35L431.44 247.41L436.79 244.46L442.13 241.52L447.48 238.58" fill="none" stroke="#000" stroke-width="0.72"/>
<path d="M309.06 310.28L311.06 312.28L309.06 314.28L307.06 312.28Z" fill="#fff" stroke="#000" stroke-width="0.75"/>
<path d="M311.39 303.70L313.39 305.70L311.39 307.70L309.39 305.70Z" fill="#fff" stroke="#000" stroke-width="0.75"/>
<path d="M315.28 295.27L317.28 297.27L315.28 299.27L313.28 297.27Z" fill="#fff" stroke="#000" stroke-width="0.75"/>
<path d="M319.94 274.99L321.94 276.99L319.94 278.99L317.94 276.99Z" fill="#fff" stroke="#000" stroke-width="0.75"/>
<path d="M326.94 253.12L328.94 255.12L326.94 257.12L324.94 255.12Z" fill="#fff" stroke="#000" stroke-width="0.75"/>
<path d="M335.96 234.42L337.96 236.42L335.96 238.42L333.96 236.42Z" fill="#fff" stroke="#000" stroke-width="0.75"/>
<rect x="306.28" y="311.60" width="4.00" height="4.00" fill="#fff" stroke="#000" stroke-width="0.75"/>
<rect x="307.06" y="307.65" width="4.00" height="4.00" fill="#fff" stroke="#000" stroke-width="0.75"/>
<rect x="309.39" y="286.57" width="4.00" height="4.00" fill="#fff" stroke="#000" stroke-width="0.75"/>
<rect x="313.28" y="266.03" width="4.00" height="4.00" fill="#fff" stroke="#000" stroke-width="0.75"/>
<rect x="317.17" y="251.54" width="4.00" height="4.00" fill="#fff" stroke="#000" stroke-width="0.75"/>
<rect x="321.05" y="234.16" width="4.00" height="4.00" fill="#fff" stroke="#000" stroke-width="0.75"/>
<path d="M319.17 308.24L321.37 312.42L316.97 312.42Z" fill="#fff" stroke="#000" stroke-width="0.75"/>
<path d="M342.50 292.96L344.69 297.14L340.30 297.14Z" fill="#fff" stroke="#000" stroke-width="0.75"/>
<path d="M365.82 283.74L368.02 287.92L363.62 287.92Z" fill="#fff" stroke="#000" stroke-width="0.75"/>
<path d="M385.27 266.62L387.47 270.80L383.07 270.80Z" fill="#fff" stroke="#000" stroke-width="0.75"/>
<path d="M424.15 250.03L426.35 254.21L421.95 254.21Z" fill="#fff" stroke="#000" stroke-width="0.75"/>
<path d="M447.48 237.12L449.68 241.30L445.28 241.30Z" fill="#fff" stroke="#000" stroke-width="0.75"/>
<rect x="320.95" y="309.39" width="4.20" height="4.20" fill="#000"/>
<rect x="336.51" y="293.06" width="4.20" height="4.20" fill="#000"/>
<rect x="367.61" y="279.36" width="4.20" height="4.20" fill="#000"/>
<rect x="398.72" y="262.77" width="4.20" height="4.20" fill="#000"/>
<rect x="429.83" y="252.76" width="4.20" height="4.20" fill="#000"/>
<rect x="445.38" y="240.38" width="4.20" height="4.20" fill="#000"/>
<path d="M307.89 309.98L310.19 312.28L307.89 314.58L305.59 312.28Z" fill="#000"/>
<path d="M308.28 303.40L310.58 305.70L308.28 308.00L305.98 305.70Z" fill="#000"/>
<path d="M309.06 289.70L311.36 292.00L309.06 294.30L306.76 292.00Z" fill="#000"/>
<path d="M310.61 262.57L312.91 264.87L310.61 267.17L308.31 264.87Z" fill="#000"/>
<path d="M312.17 236.23L314.47 238.53L312.17 240.83L309.87 238.53Z" fill="#000"/>
<rect x="337.01" y="304.10" width="3.20" height="3.20" fill="#fff" stroke="#000" stroke-width="1.70"/>
<rect x="368.11" y="289.61" width="3.20" height="3.20" fill="#fff" stroke="#000" stroke-width="1.70"/>
<rect x="399.22" y="275.12" width="3.20" height="3.20" fill="#fff" stroke="#000" stroke-width="1.70"/>
<rect x="430.33" y="271.17" width="3.20" height="3.20" fill="#fff" stroke="#000" stroke-width="1.70"/>
<rect x="461.43" y="254.05" width="3.20" height="3.20" fill="#fff" stroke="#000" stroke-width="1.70"/>
<rect x="492.54" y="240.09" width="3.20" height="3.20" fill="#fff" stroke="#000" stroke-width="1.70"/>
<path d="M338.61 305.93L341.01 310.49L336.21 310.49Z" fill="#000"/>
<path d="M354.16 295.92L356.56 300.48L351.76 300.48Z" fill="#000"/>
<path d="M369.71 286.18L372.11 290.74L367.31 290.74Z" fill="#000"/>
<path d="M385.27 275.64L387.67 280.20L382.87 280.20Z" fill="#000"/>
<path d="M400.82 262.47L403.22 267.03L398.42 267.03Z" fill="#000"/>
<path d="M431.93 240.08L434.33 244.64L429.53 244.64Z" fill="#000"/>
<rect x="306.68" y="310.68" width="3.20" height="3.20" fill="#fff" stroke="#000" stroke-width="1.70"/>
<rect x="307.46" y="306.73" width="3.20" height="3.20" fill="#fff" stroke="#000" stroke-width="1.70"/>
<rect x="309.01" y="296.19" width="3.20" height="3.20" fill="#fff" stroke="#000" stroke-width="1.70"/>
<rect x="310.57" y="285.66" width="3.20" height="3.20" fill="#fff" stroke="#000" stroke-width="1.70"/>
<rect x="312.12" y="275.91" width="3.20" height="3.20" fill="#fff" stroke="#000" stroke-width="1.70"/>
<rect x="313.68" y="271.17" width="3.20" height="3.20" fill="#fff" stroke="#000" stroke-width="1.70"/>
<rect x="315.23" y="258.79" width="3.20" height="3.20" fill="#fff" stroke="#000" stroke-width="1.70"/>
<rect x="316.79" y="250.89" width="3.20" height="3.20" fill="#fff" stroke="#000" stroke-width="1.70"/>
<rect x="318.34" y="241.67" width="3.20" height="3.20" fill="#fff" stroke="#000" stroke-width="1.70"/>
<line x1="307.50" y1="189.30" x2="307.50" y2="322.00" stroke="#555" stroke-width="0.9"/>
<line x1="540.80" y1="189.80" x2="540.80" y2="321.50" stroke="#5a5a5a" stroke-width="0.9"/>
<line x1="307.00" y1="189.80" x2="541.30" y2="189.80" stroke="#5a5a5a" stroke-width="0.9"/>
<line x1="307.00" y1="321.50" x2="541.30" y2="321.50" stroke="#2a2a2a" stroke-width="0.85"/>
<line x1="305.50" y1="321.50" x2="307.50" y2="321.50" stroke="#222" stroke-width="0.7"/>
<text x="302.80" y="323.30" text-anchor="end" class="t">0</text>
<line x1="305.50" y1="295.16" x2="307.50" y2="295.16" stroke="#222" stroke-width="0.7"/>
<text x="302.80" y="296.96" text-anchor="end" class="t">100</text>
<line x1="305.50" y1="268.82" x2="307.50" y2="268.82" stroke="#222" stroke-width="0.7"/>
<text x="302.80" y="270.62" text-anchor="end" class="t">200</text>
<line x1="305.50" y1="242.48" x2="307.50" y2="242.48" stroke="#222" stroke-width="0.7"/>
<text x="302.80" y="244.28" text-anchor="end" class="t">300</text>
<line x1="305.50" y1="216.14" x2="307.50" y2="216.14" stroke="#222" stroke-width="0.7"/>
<text x="302.80" y="217.94" text-anchor="end" class="t">400</text>
<line x1="305.50" y1="189.80" x2="307.50" y2="189.80" stroke="#222" stroke-width="0.7"/>
<text x="302.80" y="191.60" text-anchor="end" class="t">500</text>
<line x1="307.50" y1="321.50" x2="307.50" y2="323.50" stroke="#222" stroke-width="0.7"/>
<text x="306.80" y="332.50" text-anchor="middle" class="t">0</text>
<line x1="385.27" y1="321.50" x2="385.27" y2="323.50" stroke="#222" stroke-width="0.7"/>
<text x="384.57" y="332.50" text-anchor="middle" class="t">1</text>
<line x1="463.03" y1="321.50" x2="463.03" y2="323.50" stroke="#222" stroke-width="0.7"/>
<text x="462.33" y="332.50" text-anchor="middle" class="t">2</text>
<line x1="540.80" y1="321.50" x2="540.80" y2="323.50" stroke="#222" stroke-width="0.7"/>
<text x="540.10" y="332.50" text-anchor="middle" class="t">3</text>
<text x="424.60" y="344.20" text-anchor="middle" class="t">Concentration (mg/mL)</text>
<text transform="translate(286.90 254.45) rotate(-90)" text-anchor="middle" class="t">Concentration of Trolox (µM)</text>
</g>
<g id="legends">
<rect x="44.71" y="20.01" width="3.78" height="3.78" fill="#000"/>
<text x="49.70" y="23.45" class="l">Inflorescence A</text>
<path d="M101.40 19.60L103.70 21.90L101.40 24.20L99.10 21.90Z" fill="#000"/>
<text x="104.50" y="23.45" class="l">Inflorescence B</text>
<rect x="154.36" y="20.46" width="2.88" height="2.88" fill="#fff" stroke="#000" stroke-width="1.53"/>
<text x="158.90" y="23.45" class="l">Inflorescence C</text>
<path d="M211.00 19.50L213.40 24.06L208.60 24.06Z" fill="#000"/>
<text x="214.10" y="23.45" class="l">Inflorescence D</text>
<rect x="45.16" y="29.56" width="2.88" height="2.88" fill="#fff" stroke="#000" stroke-width="1.53"/>
<text x="49.70" y="32.85" class="l">Inflorescence E</text>
<path d="M101.40 29.20L103.20 31.00L101.40 32.80L99.60 31.00Z" fill="#fff" stroke="#000" stroke-width="0.75"/>
<text x="104.50" y="32.85" class="l">BHT</text>
<rect x="153.80" y="29.00" width="4.00" height="4.00" fill="#fff" stroke="#000" stroke-width="0.75"/>
<text x="158.90" y="32.85" class="l">BHA</text>
<path d="M211.00 29.13L212.87 32.68L209.13 32.68Z" fill="#fff" stroke="#000" stroke-width="0.75"/>
<text x="214.10" y="32.85" class="l">VC</text>
<text x="33.9" y="28.1" class="p">a</text>
<rect x="330.50" y="26.65" width="4.20" height="4.20" fill="#000"/>
<text x="335.70" y="30.00" class="l">Leaf A</text>
<path d="M361.00 26.45L363.30 28.75L361.00 31.05L358.70 28.75Z" fill="#000"/>
<text x="364.10" y="30.00" class="l">Leaf B</text>
<rect x="387.88" y="27.23" width="3.04" height="3.04" fill="#fff" stroke="#000" stroke-width="1.61"/>
<text x="392.50" y="30.00" class="l">Leaf C</text>
<path d="M417.60 26.35L420.00 30.91L415.20 30.91Z" fill="#000"/>
<text x="420.70" y="30.00" class="l">Leaf D</text>
<rect x="444.48" y="27.23" width="3.04" height="3.04" fill="#fff" stroke="#000" stroke-width="1.61"/>
<text x="449.10" y="30.00" class="l">Leaf E</text>
<path d="M475.00 26.75L477.00 28.75L475.00 30.75L473.00 28.75Z" fill="#fff" stroke="#000" stroke-width="0.75"/>
<text x="478.10" y="30.00" class="l">BHT</text>
<rect x="496.00" y="26.75" width="4.00" height="4.00" fill="#fff" stroke="#000" stroke-width="0.75"/>
<text x="501.10" y="30.00" class="l">BHA</text>
<path d="M521.00 26.55L523.20 30.73L518.80 30.73Z" fill="#fff" stroke="#000" stroke-width="0.75"/>
<text x="524.10" y="30.00" class="l">VC</text>
<text x="312.4" y="30.2" class="p">b</text>
<rect x="53.90" y="197.40" width="4.20" height="4.20" fill="#000"/>
<text x="59.10" y="201.15" class="l">Stem A</text>
<path d="M86.00 197.20L88.30 199.50L86.00 201.80L83.70 199.50Z" fill="#000"/>
<text x="89.10" y="201.15" class="l">Stem B</text>
<rect x="114.48" y="197.98" width="3.04" height="3.04" fill="#fff" stroke="#000" stroke-width="1.61"/>
<text x="119.10" y="201.15" class="l">Stem C</text>
<path d="M146.60 197.10L149.00 201.66L144.20 201.66Z" fill="#000"/>
<text x="149.70" y="201.15" class="l">Stem D</text>
<rect x="174.48" y="197.98" width="3.04" height="3.04" fill="#fff" stroke="#000" stroke-width="1.61"/>
<text x="179.10" y="201.15" class="l">Stem E</text>
<path d="M206.60 197.50L208.60 199.50L206.60 201.50L204.60 199.50Z" fill="#fff" stroke="#000" stroke-width="0.75"/>
<text x="209.70" y="201.15" class="l">BHT</text>
<rect x="224.60" y="197.50" width="4.00" height="4.00" fill="#fff" stroke="#000" stroke-width="0.75"/>
<text x="229.70" y="201.15" class="l">BHA</text>
<path d="M248.00 197.30L250.20 201.48L245.80 201.48Z" fill="#fff" stroke="#000" stroke-width="0.75"/>
<text x="251.10" y="201.15" class="l">VC</text>
<text x="35.6" y="201.6" class="p">c</text>
<rect x="341.30" y="199.70" width="4.20" height="4.20" fill="#000"/>
<text x="346.50" y="203.25" class="l">Root A</text>
<path d="M371.60 199.50L373.90 201.80L371.60 204.10L369.30 201.80Z" fill="#000"/>
<text x="374.70" y="203.25" class="l">Root B</text>
<rect x="398.08" y="200.28" width="3.04" height="3.04" fill="#fff" stroke="#000" stroke-width="1.61"/>
<text x="402.70" y="203.25" class="l">Root C</text>
<path d="M427.60 199.40L430.00 203.96L425.20 203.96Z" fill="#000"/>
<text x="430.70" y="203.25" class="l">Leaf D</text>
<rect x="452.88" y="200.28" width="3.04" height="3.04" fill="#fff" stroke="#000" stroke-width="1.61"/>
<text x="457.50" y="203.25" class="l">Root E</text>
<path d="M482.60 199.80L484.60 201.80L482.60 203.80L480.60 201.80Z" fill="#fff" stroke="#000" stroke-width="0.75"/>
<text x="485.70" y="203.25" class="l">BHT</text>
<rect x="501.00" y="199.80" width="4.00" height="4.00" fill="#fff" stroke="#000" stroke-width="0.75"/>
<text x="506.10" y="203.25" class="l">BHA</text>
<path d="M524.00 199.60L526.20 203.78L521.80 203.78Z" fill="#fff" stroke="#000" stroke-width="0.75"/>
<text x="527.10" y="203.25" class="l">VC</text>
<text x="315" y="202.3" class="p">d</text>
</g>
</svg>
</body>
</html>
